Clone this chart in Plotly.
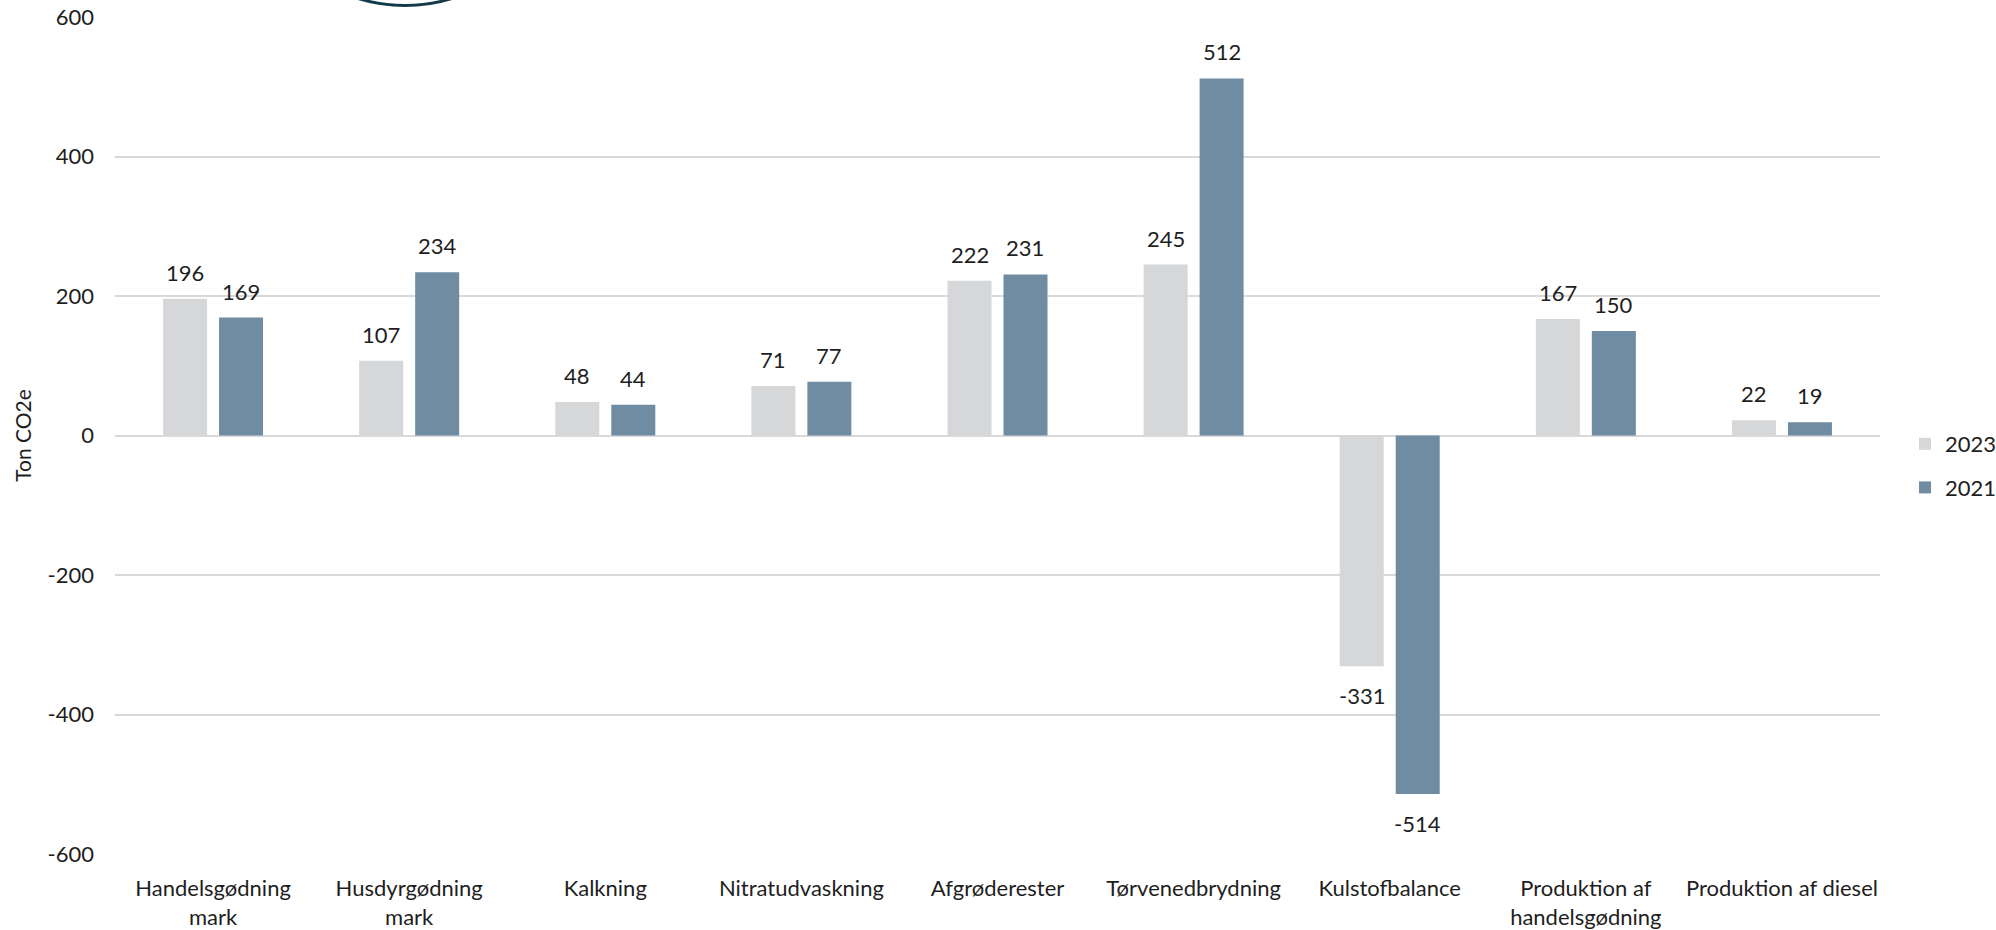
import plotly.graph_objects as go

# Emissions per source, tonnes CO2e
categories = [
    "Handelsgødning<br>mark",
    "Husdyrgødning<br>mark",
    "Kalkning",
    "Nitratudvaskning",
    "Afgrøderester",
    "Tørvenedbrydning",
    "Kulstofbalance",
    "Produktion af<br>handelsgødning",
    "Produktion af diesel",
]
values_2023 = [196, 107, 48, 71, 222, 245, -331, 167, 22]
values_2021 = [169, 234, 44, 77, 231, 512, -514, 150, 19]
y_ticks = [-600, -400, -200, 0, 200, 400, 600]

W, H = 1996, 930
M_L, M_R, M_T, M_B = 115, 116, 16.5, 75.5
FONT = "Lato, 'Noto Sans', Arial, sans-serif"
TEXT = "#1e1e1e"
C_2023 = "#d6d7d9"
C_2021 = "#6f8ca3"

BARGAP = 0.429
GROUPGAP = 0.214

fig = go.Figure()
fig.add_trace(go.Bar(name="2023", x=categories, y=values_2023,
                     marker=dict(color=C_2023, line_width=0),
                     legendgroup="a"))
fig.add_trace(go.Bar(name="2021", x=categories, y=values_2021,
                     marker=dict(color=C_2021, line_width=0),
                     legendgroup="b"))

# value labels placed just beyond each bar end
plot_w = W - M_L - M_R
slot_px = plot_w / len(categories) * (1 - BARGAP) / 2
annotations = []
for series, sign in ((values_2023, -1), (values_2021, 1)):
    for cat, v in zip(categories, series):
        pos = v >= 0
        annotations.append(dict(
            x=cat, y=v, xref="x", yref="y",
            text=str(v), showarrow=False,
            xshift=sign * slot_px / 2,
            yanchor="bottom" if pos else "top",
            yshift=11 if pos else -14,
            font=dict(family=FONT, size=22, color=TEXT),
        ))


def px_x(p):
    return (p - M_L) / plot_w


def px_y(p):
    return (H - M_B - p) / (H - M_T - M_B)


# emblem ring partly above the chart
shapes = [dict(type="circle", xref="paper", yref="paper",
               x0=px_x(245), x1=px_x(565), y0=px_y(5), y1=px_y(-315),
               line=dict(color="#123a4b", width=3), layer="above")]

fig.update_layout(
    width=W, height=H,
    margin=dict(l=M_L, r=M_R, t=M_T, b=M_B, autoexpand=False),
    paper_bgcolor="white", plot_bgcolor="white",
    barmode="group", bargap=BARGAP, bargroupgap=GROUPGAP,
    font=dict(family=FONT, size=22, color=TEXT),
    showlegend=True,
    legend=dict(x=px_x(1905), y=px_y(423), xanchor="left", yanchor="top",
                font=dict(family=FONT, size=22, color=TEXT),
                tracegroupgap=12, bgcolor="rgba(0,0,0,0)"),
    annotations=annotations,
    shapes=shapes,
)
fig.update_xaxes(showgrid=False, showline=False, ticks="", zeroline=False,
                 tickfont=dict(family=FONT, size=22, color=TEXT),
                 ticklabelstandoff=19)
fig.update_yaxes(range=[-600, 600], tickvals=y_ticks,
                 ticktext=[str(t) for t in y_ticks],
                 showgrid=True, gridcolor="#d9d9d9", gridwidth=2,
                 zeroline=True, zerolinecolor="#d9d9d9", zerolinewidth=2,
                 showline=False, ticks="",
                 tickfont=dict(family=FONT, size=22, color=TEXT),
                 ticklabelstandoff=20,
                 title=dict(text="Ton CO2e", standoff=10,
                            font=dict(family=FONT, size=21, color=TEXT)))

fig.write_html("out.html")
